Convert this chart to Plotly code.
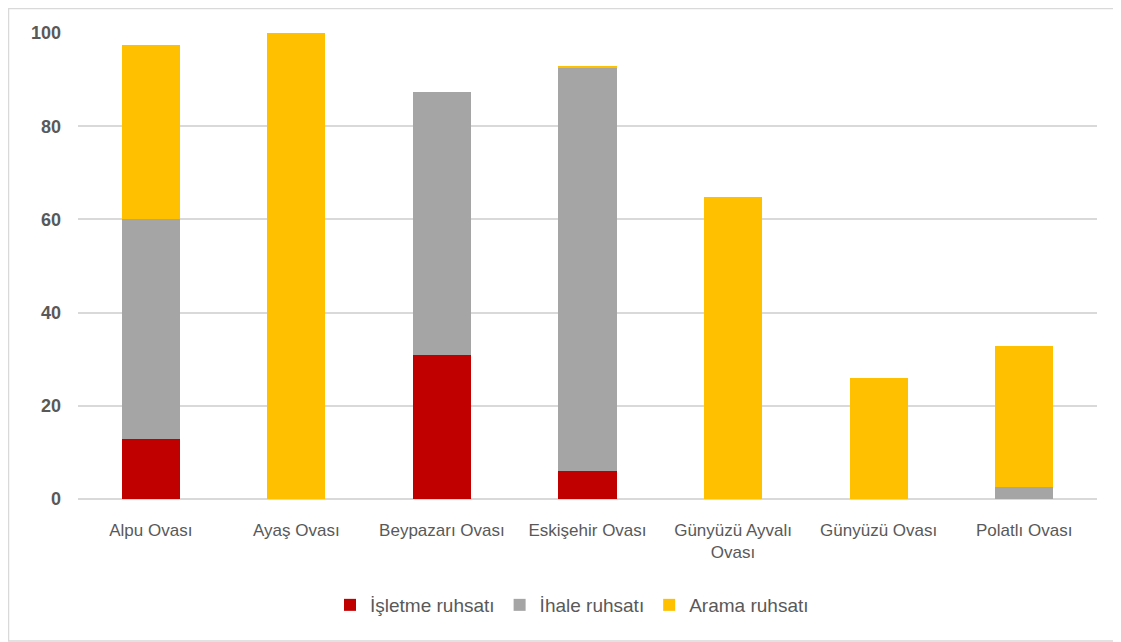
import plotly.graph_objects as go

categories = ["Alpu Ovası", "Ayaş Ovası", "Beypazarı Ovası", "Eskişehir Ovası",
              "Günyüzü Ayvalı<br>Ovası", "Günyüzü Ovası", "Polatlı Ovası"]
isletme = [12.8, 0, 31.0, 6.0, 0, 0, 0]
ihale = [47.3, 0, 56.3, 86.5, 0, 0, 2.6]
arama = [37.3, 100, 0, 0.4, 64.8, 26.0, 30.2]
series_names = ["İşletme ruhsatı", "İhale ruhsatı", "Arama ruhsatı"]
colors = ["#C00000", "#A5A5A5", "#FFC000"]
y_ticks = [0, 20, 40, 60, 80, 100]

fig = go.Figure()
for name, vals, c in zip(series_names, [isletme, ihale, arama], colors):
    fig.add_trace(go.Bar(x=categories, y=vals, name=name, marker_color=c,
                         marker_line_width=0))

# page body has an 8px margin, so the figure is drawn 8px smaller
W, H = 1113, 634
ml, mr, mt, mb = 70, 24, 25, 143
pw, ph = W - ml - mr, H - mt - mb
fig.update_layout(
    width=W, height=H, barmode="stack", bargap=0.6,
    paper_bgcolor="white", plot_bgcolor="white",
    margin=dict(l=ml, r=mr, t=mt, b=mb),
    font=dict(family="Liberation Sans, Arial, sans-serif", color="#595959", size=17),
    legend=dict(orientation="h", x=(564 - ml) / pw, xanchor="center",
                y=-(597 - (H - mb)) / ph, yanchor="middle",
                font=dict(size=19, color="#595959"), traceorder="normal",
                itemsizing="constant"),
    xaxis=dict(showgrid=False, showline=False, ticks="", ticklabelstandoff=19,
               tickfont=dict(size=17, color="#595959")),
    yaxis=dict(range=[0, 100], tickvals=y_ticks, gridcolor="#D9D9D9", gridwidth=1.5,
               zeroline=True, zerolinecolor="#D9D9D9", zerolinewidth=1.5,
               showline=False, ticks="", ticklabelstandoff=16,
               tickfont=dict(size=18, color="#595959", weight="bold")),
    shapes=[dict(type="rect", xref="paper", yref="paper",
                 x0=(0.5 - ml) / pw, x1=(1109 - ml) / pw,
                 y0=-(H - 1 - (H - mb)) / ph, y1=1 + (mt - 0.5) / ph,
                 line=dict(color="#D9D9D9", width=1.5), layer="below")],
)

fig.write_html("out.html")
